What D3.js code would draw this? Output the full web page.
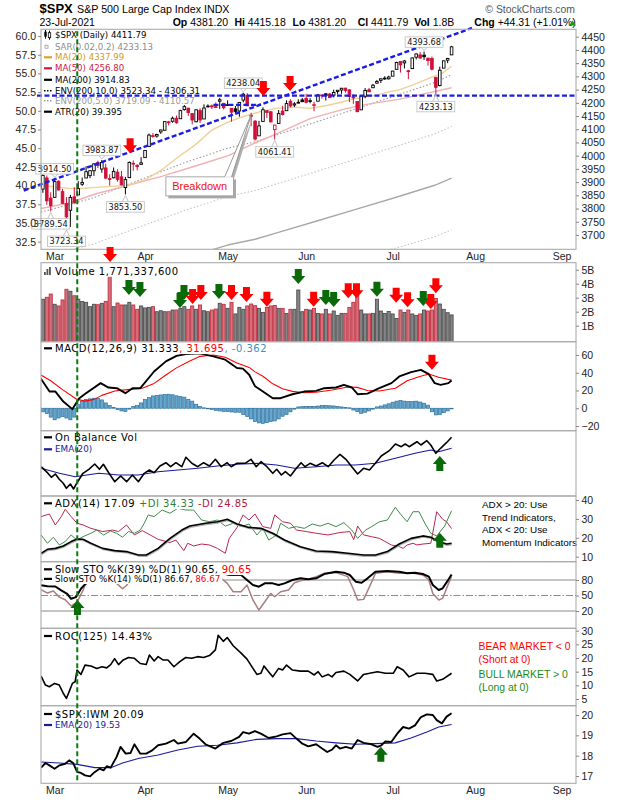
<!DOCTYPE html>
<html><head><meta charset="utf-8">
<script src="https://cdn.jsdelivr.net/npm/d3@7/dist/d3.min.js"></script>
<style>
html,body{margin:0;padding:0;background:#fff;}
svg{display:block;}
text{white-space:pre;}
</style></head><body>
<svg id="chart" width="620" height="800"></svg>
<script>
// ================= DATA =================
// trading calendar (categories)
const holidays = ["2021-04-02","2021-05-31","2021-07-05","2021-09-06"];
const calStart = "2021-02-24", calEnd = "2021-09-08";
const monthLabels = ["Mar","Apr","May","Jun","Jul","Aug","Sep"];
// day index used by indicator arrays: 0 = 2021-02-25 (array position 1)
const DAY0 = 1;
const prevClose = 3881.37;

// daily OHLC, 2021-02-24 .. 2021-07-23
const open = [3873.71,3915.80,3839.66,
3842.51,3903.64,3863.99,3818.53,3793.58,3844.39,3851.69,3891.99,3915.54,3924.52,3942.96,3973.59,3949.57,3953.50,3913.14,3916.48,3937.60,3919.93,3879.34,3917.12,3969.31,3963.34,3967.25,
3992.78,4034.44,4075.57,4074.29,4089.95,4096.11,4124.71,4130.10,4141.58,4139.76,4174.14,4179.80,4159.18,4128.42,4170.46,4138.78,4185.03,4188.25,4185.14,4206.14,4198.10,
4191.98,4179.04,4177.06,4169.14,4210.34,4228.29,4150.34,4130.55,4074.99,4129.58,4169.92,4165.94,4098.45,4121.97,4168.61,4170.16,4205.94,4191.59,4201.94,4210.77,
4216.52,4206.82,4191.43,4206.05,4229.34,4233.81,4232.99,4228.56,4242.90,4248.31,4255.28,4248.87,4220.37,4204.78,4173.40,4224.61,4249.27,4256.97,4274.45,4284.90,4293.21,4290.65,
4300.73,4326.60,4356.46,4351.01,4321.07,4329.38,4372.41,4381.07,4380.11,4369.02,4367.43,4296.40,4265.11,4331.13,4361.27,4381.20];
const high = [3928.65,3925.02,3861.08,
3914.50,3906.41,3874.47,3843.67,3851.69,3881.06,3903.76,3917.35,3960.27,3944.99,3970.08,3981.04,3983.87,3969.62,3930.12,3955.31,3949.13,3942.08,3919.54,3978.19,3981.83,3968.01,3994.41,
4020.63,4083.42,4086.23,4083.13,4098.19,4129.48,4131.76,4148.00,4151.69,4173.49,4191.31,4180.81,4159.18,4175.02,4179.57,4194.17,4194.19,4193.35,4201.53,4218.78,4198.10,
4209.39,4179.04,4187.72,4202.70,4238.04,4236.39,4162.04,4134.73,4131.58,4183.13,4171.92,4169.15,4116.93,4172.80,4188.72,4209.52,4213.42,4202.61,4213.38,4218.36,
4234.12,4217.37,4204.39,4233.45,4232.34,4236.74,4237.09,4249.74,4248.38,4255.59,4257.16,4251.89,4232.29,4204.78,4226.24,4255.84,4256.60,4271.28,4286.12,4292.14,4300.52,4302.43,
4320.66,4355.43,4356.46,4361.88,4324.81,4371.60,4386.68,4392.37,4393.68,4369.02,4375.09,4296.40,4336.84,4359.70,4369.87,4415.18];
const low = [3859.60,3814.04,3789.54,
3842.51,3868.57,3818.86,3723.34,3730.19,3819.25,3851.69,3885.73,3915.54,3915.21,3923.54,3953.44,3935.74,3910.86,3886.75,3914.16,3901.57,3889.07,3853.50,3917.12,3943.25,3944.35,3966.98,
3992.78,4034.44,4068.14,4068.31,4082.54,4095.51,4114.82,4124.43,4120.87,4139.76,4170.75,4150.47,4118.38,4126.35,4123.69,4138.78,4182.36,4176.22,4181.78,4176.81,4174.85,
4188.03,4128.59,4160.94,4147.33,4201.64,4188.13,4111.53,4056.88,4074.99,4129.58,4142.69,4125.99,4061.41,4121.97,4151.72,4170.16,4182.52,4184.11,4197.78,4203.57,
4197.59,4198.27,4167.93,4206.05,4215.66,4208.41,4218.74,4220.34,4232.25,4234.07,4238.35,4202.45,4196.05,4164.40,4173.40,4217.27,4241.43,4256.97,4271.16,4274.67,4287.04,4287.96,
4300.73,4326.60,4314.37,4329.79,4289.67,4329.38,4364.03,4366.92,4362.36,4340.70,4322.53,4233.13,4262.05,4331.13,4350.06,4381.20];
const close = [3925.43,3829.34,3811.15,
3901.82,3870.29,3819.72,3768.47,3841.94,3821.35,3875.44,3898.81,3939.34,3943.34,3968.94,3962.71,3974.12,3915.46,3913.10,3940.59,3910.52,3889.14,3909.52,3974.54,3971.09,3958.55,3972.89,
4019.87,4077.91,4073.94,4079.95,4097.17,4128.80,4127.99,4141.59,4124.66,4170.42,4185.47,4163.26,4134.94,4173.42,4134.98,4180.17,4187.62,4186.72,4183.18,4211.47,4181.17,
4192.66,4164.66,4167.59,4201.62,4232.60,4188.43,4152.10,4063.04,4112.50,4173.85,4163.29,4127.83,4115.68,4159.12,4155.86,4197.05,4188.13,4195.99,4200.88,4204.11,
4202.04,4208.12,4192.85,4229.89,4226.52,4227.26,4219.55,4239.18,4247.44,4255.15,4246.59,4223.70,4221.86,4166.45,4224.79,4246.44,4241.84,4266.49,4280.70,4290.61,4291.80,4297.50,
4319.94,4352.34,4343.54,4358.13,4320.82,4369.55,4384.63,4369.21,4374.30,4360.03,4327.16,4258.49,4323.06,4358.69,4367.48,4411.79];
// volume, billions
const volumeB = [2.89,3.03,3.26,2.53,2.41,2.84,3.6,3.46,3.14,2.89,
2.73,2.67,2.36,2.53,2.5,2.6,2.74,4.55,2.36,2.62,
2.48,2.48,2.67,2.48,2.17,2.41,2.27,2.31,2.36,2.0,
2.07,2.0,2.0,2.12,2.12,2.24,2.36,2.17,2.41,2.17,
2.48,2.07,2.0,2.12,2.19,2.6,2.53,2.24,2.67,1.84,
2.31,2.17,2.41,2.55,2.43,2.24,1.95,2.31,2.41,2.45,
2.24,2.24,1.88,2.17,2.17,3.55,2.0,2.17,2.12,2.24,
1.88,1.84,2.17,1.84,2.05,1.74,1.88,1.88,2.31,2.67,
3.19,2.12,1.84,1.84,1.88,2.89,2.05,1.88,2.02,1.84,
1.52,2.12,1.95,2.12,1.84,1.74,1.84,2.12,2.05,2.12,
2.95,2.55,2.17,1.93,1.77];
// MACD histogram per day
const macdHist = [-4,-6,-10,-13,-11,-9.5,-11,-13,-10,4,
8,10,10.6,11.3,11,9.4,6,3,1,-1.5,
-3,-3.5,-1,2,3,6,10,12,13.9,14.5,
15,15.5,15.8,15.2,14,13.2,12.5,10,8,4.5,
2,0.5,-0.5,-1.5,-2.5,-3,-3.5,-3.8,-4.2,-4.5,
-4.5,-7,-9.4,-12,-15,-16.5,-17,-16.2,-15,-14.3,
-12,-9,-7,-4,-1,1.5,1.8,1.9,1.9,2,
2.5,3,3,2.8,2.6,2,1.5,1,0.5,-2,
-3.8,-5.7,-4.5,-3,-1,1.5,2.5,3.8,5,6.8,
8,8.7,8,7.5,7.5,8,7,5.7,3.5,-4,
-7.5,-7,-5,-3,-0.362];

// overlay lines: [day index, value]
const ma20 = [[-1.5,3888],[2,3882],[5.4,3877],[9,3876],[12.3,3880],[16,3884],[19.9,3886],[25,3908],[29.2,3946],[33.5,3996],[37.7,4040],[42,4097],[46.2,4128],[50.4,4150],[54,4165],[58.6,4180],[63.7,4183],[67,4179],[71.3,4190],[75.4,4204],[77.9,4215],[80.5,4220],[84,4229],[87.3,4242],[89.9,4250],[93.2,4268],[97.5,4294],[100.8,4313],[103,4337.99]];
const ma50 = [[-1.5,3800],[6,3822],[12.3,3855],[20,3885],[29.2,3922],[38,3962],[46.2,4000],[53,4048],[59,4086],[67,4140],[75.4,4175],[80.5,4192],[89.9,4214],[96,4234],[103,4256.8]];
const ma200 = [[-1.5,3442],[12,3492],[25,3560],[35,3612],[46,3662],[53,3684],[58.5,3708],[68.5,3752],[78.6,3797],[88.7,3842],[98.7,3888],[103,3914.83]];
const envWide = 0.10, envNarrow = 0.05;   // ENV(200,10.0), ENV(200,5.0)

const macdLine = [[-1.5,33.2],[0.7,18.8],[2.2,18.8],[4.2,7.5],[6.5,-1],[8.2,11],[9.7,16],[13.7,28.3],[15.7,23.3],[17.8,22.6],[20,17],[21.8,22.6],[23.8,22.6],[27.3,41.4],[30.3,52.8],[33,59],[35.4,61.1],[38.9,61.9],[42.4,58.5],[45.4,54.7],[48.4,45.3],[49.9,44.6],[51.5,37.8],[53,24.7],[55,18.8],[57.5,11.3],[59.5,11.3],[62.5,15.8],[65.5,18.8],[68.5,19.6],[70.6,22.6],[73.6,23.4],[75.6,26.4],[77.6,23.4],[79.1,15.8],[81.6,16.5],[84.6,22.6],[87.7,28.3],[89.7,35.8],[92.7,40.7],[95.2,43.3],[97.2,38.4],[98.7,28.3],[100.2,26.4],[102.2,28.3],[103,31.333]];
const macdSignal = [[-1.5,37.5],[1,31],[4,21],[7.5,10.5],[9.7,8],[12,10],[14,14.5],[17.3,19.5],[20.5,21],[24.3,22.5],[27.3,28],[30.3,37.5],[33,45.5],[36,52.5],[39,58.5],[42.4,60],[45.4,57.5],[48.4,51],[51.5,46],[53,41],[55,36],[57.5,27.5],[60,22],[62.5,19],[65.5,17.5],[68.5,18],[72.6,20.5],[76.6,24],[79,23.5],[81.6,20],[84.6,19.5],[88.7,22.5],[91.7,31],[94.7,35.5],[97.2,38.5],[99.7,35],[103,31.695]];

const obv = [[-1.45,29.3],[0.16,23.3],[1.17,18.7],[2.17,22],[3.18,16.7],[4.18,12.7],[4.99,7.7],[6,12],[6.8,7],[7.7,13.3],[9.2,22.7],[10.7,26.7],[12.2,32],[13.4,26.7],[14.4,31.7],[15.75,23.3],[17.3,14.3],[18.8,20],[20.3,14.3],[21.8,21],[23.3,14.3],[24.8,22.7],[26.1,26],[27.3,23.3],[28.8,30],[30.3,33.3],[31.5,29.3],[32.85,33.3],[34.35,29.3],[35.4,38.7],[36.9,32.7],[38.4,29.3],[39.9,33.3],[41.4,30],[42.9,36.7],[44.4,29.3],[45.9,33.3],[46.9,29.3],[48.4,32.7],[50.45,32.7],[51.95,36.7],[53.3,29.3],[54.5,34.3],[56,29.3],[57.5,22.7],[58.5,26.7],[59.7,21],[60.7,24.3],[62,20],[63.3,26.7],[64.7,33.3],[65.7,29.3],[67,32.7],[68.55,30],[70.1,33.3],[71.6,29.3],[73.1,36],[74.6,41.7],[76.1,36.7],[77.6,29.3],[79.1,22],[80.6,27.7],[82.1,26],[83.6,32.7],[85.1,40],[87.15,45.3],[88.7,52],[90.2,49.3],[91.2,52],[92.2,49.3],[94.2,54.3],[95.2,51],[96.7,55.3],[97.7,51],[99,42.7],[100.2,47.7],[101.7,53.3],[103,58.7]];
const obvEma = [[-1.45,27.7],[3.2,22.7],[7.2,19.3],[13.2,22.7],[18.3,21],[23.3,21],[28.3,24.3],[33.4,26],[38.4,27.7],[43.4,30],[48.4,31.7],[53.5,32.7],[58.5,31],[63,27.7],[68.6,29.3],[73.6,31],[78.6,31],[83.6,32.7],[88.7,37.7],[93.7,42.7],[97.7,46],[99.7,44.3],[103,47.7]];

const adx = [[-1.45,11.8],[0.16,13.9],[2.17,14.4],[4.18,15.7],[6.19,18],[7.7,19.4],[9.21,19.2],[11.22,17.1],[14.24,14.4],[17.26,13.2],[20.27,12.7],[23.29,10.9],[25.3,10.9],[28.32,14.4],[31.34,19.7],[34.35,24.1],[36.37,26.2],[40.39,27.7],[43.41,28.5],[45.92,29.8],[48.43,27.3],[51.45,25.5],[54.47,25],[57.49,22.4],[60.5,18.8],[64.53,15.3],[68.55,13],[72.57,12.7],[76.59,11.8],[80.62,10.9],[83.63,10.9],[86.65,12.7],[89.67,16.7],[92.68,19.7],[95.7,21],[97.71,20.3],[99.73,18],[101.74,16.7],[103,17.09]];
const plusDI = [[-1.45,21.5],[0.16,17.1],[1.67,20.3],[3.18,16.2],[4.69,18],[6.19,21.5],[7.7,18.8],[9.21,20.6],[11.22,22.4],[12.73,24.1],[14.44,21.5],[16.25,23.6],[17.76,22.4],[19.27,20.3],[20.78,23.3],[22.29,22.4],[23.79,24.1],[24.8,27.7],[25.81,32.1],[27.32,31.2],[29.33,34.7],[31.34,33],[33.35,35.6],[35.36,34.7],[37.37,34.7],[39.38,29.4],[41.39,28.5],[43.41,29.4],[45.42,26.2],[47.43,27.7],[49.44,25.9],[51.45,27.3],[53.46,21.5],[54.97,25],[56.48,18.8],[58.49,21.5],[59.5,27.7],[61.51,25],[63.52,25.9],[65.53,25],[67.54,27.3],[69.55,26.2],[71.57,27.7],[73.58,25.9],[75.59,28],[77.6,24.1],[79.1,19.7],[81.12,24.1],[82.63,25.9],[84.64,28.5],[86.65,29.4],[88.66,36.1],[90.17,32.1],[91.68,28.5],[93.19,33.8],[94.7,33.8],[96.2,27.7],[97.71,22.4],[99.22,21],[101.23,26.2],[103,34.33]];
const minusDI = [[-1.45,31.2],[0.66,32.6],[2.17,26.8],[3.68,31.2],[4.69,35.1],[6.19,31.2],[7.7,27.7],[9.21,26.8],[11.22,25],[14.24,23.3],[16.75,24.1],[18.26,23.3],[20.27,26.8],[22.29,21.5],[24.3,23.8],[26.31,21.5],[28.32,19.2],[31.34,17.5],[32.85,18.8],[34.86,13.2],[35.86,17.1],[37.37,15.7],[39.38,16.7],[41.39,16.2],[43.41,14.4],[45.42,11.8],[46.42,19.7],[48.43,25.5],[49.94,32.1],[51.45,29.4],[52.96,32.6],[54.97,25.9],[56.98,25],[57.99,32.1],[60,28.5],[62.01,27.7],[63.52,24.1],[66.04,23.3],[68.55,22.4],[71.57,21.5],[74.58,22.8],[77.1,23.3],[78.1,19],[79.1,26.2],[80.62,21.5],[82.63,20.6],[84.64,19.7],[87.66,16.2],[89.67,15.3],[90.67,14.4],[91.68,16.2],[93.19,17.1],[94.19,16.2],[95.7,16.7],[97.71,17.1],[99.22,33.8],[100.73,29.8],[101.74,28.5],[103,24.85]];

const stoSlow = [[-1.45,70],[0.16,68.1],[2.17,67.5],[3.68,59.8],[5.19,53.3],[6.19,43.6],[7.4,46.9],[8.7,63],[9.72,71.4],[11.22,82],[14.24,90],[18.26,89],[22.29,85],[26.31,92.9],[30.33,96],[35.36,96],[40.39,93],[44.41,94],[46.42,89.7],[49.44,89.7],[50.95,80],[52.46,70.3],[53.97,67.1],[55.47,73.5],[57.49,73.5],[58.99,70.3],[60.5,73.5],[62.51,80],[64.53,83.2],[66.54,81.3],[68.55,83.2],[70.56,91.6],[73.58,96.1],[75.59,94.2],[77.1,89.7],[78.6,76.8],[80.11,74.8],[81.62,83.2],[83.63,96.1],[86.65,97.4],[89.67,96.1],[91.68,92.9],[93.69,94.2],[95.7,91.6],[97.21,86.5],[98.22,70.3],[99.73,60.6],[100.73,63.9],[102.24,81.3],[103,90.65]];
const stoFast = [[-1.45,61.2],[0.16,54.7],[1.67,58.6],[3.18,46.9],[4.69,41.8],[6.19,29.5],[7.7,37.2],[9.21,59.8],[10.2,80],[12.2,89.7],[15.25,86.5],[17.76,73.5],[19.27,63],[20.27,69.4],[21.78,86.5],[24.3,91.6],[28.3,96],[32.3,94],[36.4,91.6],[40.4,86.5],[43.4,89.7],[45.92,73.5],[47.43,57.3],[49.44,57.3],[50.95,70.3],[52.46,41.3],[53.97,21.9],[55.47,38],[56.98,54],[57.99,47.6],[59.5,57.3],[61.51,60.6],[63.02,74.8],[64.53,78.7],[66.54,81.3],[68.55,86.5],[70.56,92.9],[73.58,94.2],[76.59,86.5],[78.1,60.6],[79.1,41.3],[80.62,42.5],[82.13,67.1],[83.63,92.9],[86.65,96.1],[89.67,92.9],[92.68,94.2],[95.7,89.7],[97.21,80],[98.22,54],[99.73,41.3],[100.73,44.5],[102.24,73.5],[103,86.67]];

const roc = [[-1.45,13.4],[-0.34,10.1],[0.66,9.5],[1.97,10.7],[3.18,10.1],[4.18,7.1],[4.99,5.2],[5.69,7.7],[6.5,10.7],[7.2,11.3],[7.7,15.6],[8.7,14],[9.72,17.4],[11.22,17.1],[12.73,16.2],[14.04,16.8],[15.25,16.4],[16.25,17.6],[17.26,19.8],[18.26,17.6],[19.47,19.3],[20.78,20.2],[22.29,19.9],[23.79,18],[25.3,17.6],[26.11,21.1],[27.32,18.9],[28.32,20.5],[29.53,19.3],[30.83,19.3],[32.34,16.8],[33.85,18.7],[35.36,20.2],[36.87,19.9],[38.38,20.5],[39.89,20.2],[41.39,20.9],[42.9,23],[43.61,28.3],[44.91,26.1],[45.92,27.5],[47.43,24.5],[49.44,21.8],[50.95,19.6],[52.46,16.2],[53.46,14],[54.47,14.4],[55.27,17.1],[56.48,14.9],[57.49,13.1],[58.99,16.2],[60,15.6],[61,17.4],[62.51,15.6],[64.53,15.2],[66.54,15.2],[68.05,13.8],[69.05,15],[70.06,13.1],[71.57,14],[72.57,13.1],[73.58,14.7],[75.59,15.2],[77.1,14],[79.1,11.6],[80.62,14],[82.13,14.4],[84.14,15],[86.15,14.4],[88.16,14.4],[89.16,16.8],[90.67,15.6],[92.18,13.1],[94.19,14.4],[96.2,14.4],[98.22,14],[99.22,11.6],[100.73,12.2],[103,14.43]];

const spxIwm = [[-1.45,17.41],[-0.34,17.64],[0.66,17.52],[1.97,17.36],[3.18,17.52],[4.69,17.6],[5.69,17.77],[6.7,17.64],[7.7,17.2],[8.7,17.15],[9.72,17.03],[11.02,16.98],[12.23,17.2],[13.44,17.36],[14.44,17.28],[15.25,17.48],[16.25,17.41],[17.76,17.94],[18.77,18.43],[20.07,18.1],[21.28,18.13],[22.29,18.56],[23.79,18.1],[25.3,18.1],[26.81,18.26],[28.32,18.51],[30.33,18.59],[32.34,18.77],[33.35,18.59],[35.36,18.67],[37.37,19.08],[38.88,18.84],[40.39,18.56],[42.9,18.35],[44.91,18.63],[46.93,18.72],[48.94,18.92],[49.94,19.16],[51.45,19.08],[52.96,19.21],[54.47,19.08],[56.48,18.87],[58.49,18.95],[60,19.05],[62.01,19.11],[63.52,18.84],[65.03,18.59],[66.54,18.46],[68.55,18.56],[70.06,18.35],[71.36,18.18],[72.57,18.3],[73.58,18.51],[74.58,18.35],[76.09,18.43],[77.6,18.35],[79.1,18.77],[80.62,18.63],[82.63,18.56],[84.14,18.43],[85.14,18.51],[86.15,18.7],[87.66,18.67],[89.16,19.08],[90.67,19.41],[92.18,19.33],[93.69,19.49],[95.2,19.9],[96.71,20.03],[98.22,20],[99.22,19.75],[100.53,19.59],[101.74,19.92],[103,20.09]];
const spxIwmEma = [[-1.45,17.69],[3.18,17.64],[7.7,17.57],[12.23,17.41],[16.25,17.41],[19.27,17.64],[23.29,17.86],[28.32,18.03],[33.35,18.28],[38.38,18.46],[43.41,18.51],[48.43,18.63],[53.46,18.8],[58.49,18.84],[63.52,18.84],[68.55,18.72],[73.58,18.63],[78.6,18.56],[83.63,18.59],[88.66,18.63],[92.68,18.87],[96.71,19.16],[99.73,19.41],[103,19.53]];

// annotations (day index, value)
const priceNotes = [["2021-02-26","low"],["2021-03-01","high"],["2021-03-04","low"],["2021-03-17","high"],["2021-03-25","low"],["2021-05-07","high"],["2021-05-19","low"],["2021-07-14","high"],["2021-07-19","low"]];
const mainSignals = [[21.2,4009],[55.1,4226],[61.9,4245]];
const volSignals = [[16.1,5.55,"r"],[20.9,3.19,"g"],[23.7,3.05,"g"],[33.9,2.26,"g"],[34.9,2.84,"g"],[37.1,2.55,"r"],[39.2,2.84,"r"],[43.8,2.9,"g"],[47,2.84,"r"],[50.8,2.7,"r"],[56,2.36,"r"],[64,3.98,"g"],[67.9,2.36,"r"],[71,2.48,"g"],[73,2.34,"g"],[76.7,2.96,"r"],[78.8,2.96,"r"],[84,3.07,"g"],[88.9,2.64,"r"],[91.8,2.31,"r"],[95.8,2.41,"g"],[97.7,2.19,"r"],[99,3.31,"r"]];
const trendDiagonal = [[-5.88,3868.3],[108.2,4482.9]];
const trendFlat = [[-2.5,4227],[134.6,4227]];
const trendShort = [[42.4,4192],[54.5,4192]];
const callout = {text:"Breakdown", tip:[52,4154], box:[[30.3,3920],[47.5,3848]]};
const signalLineDay = 7.75;

// ================= RENDER =================
const svg = d3.select("#chart");
const UI = "'Liberation Sans', Arial, Helvetica, sans-serif";
const LEG = "'DejaVu Sans', Verdana, sans-serif";
const RED = "#d0103a", GRN = "#0a6a0a", BRED = "#ff0000";
const X0 = 41, X1 = 576;

// calendar
function tradingDays(a, b, hol) {
  const out = []; const d = new Date(a + "T12:00:00Z"), e = new Date(b + "T12:00:00Z");
  while (d <= e) { const w = d.getUTCDay(), s = d.toISOString().slice(0,10);
    if (w !== 0 && w !== 6 && hol.indexOf(s) < 0) out.push(s); d.setUTCDate(d.getUTCDate() + 1); }
  return out;
}
const cal = tradingDays(calStart, calEnd, holidays);
const monthDays = [];
cal.forEach((s, i) => { if (i > 0 && s.slice(5,7) !== cal[i-1].slice(5,7)) monthDays.push(i - DAY0); });

const xs = d3.scaleLinear().domain([-1.476, 134.66]).range([X0, X1]);

const P = {
  main:{t:29.3,b:249.3}, vol:{t:262.7,b:341.7}, macd:{t:341.7,b:430.7}, obv:{t:430.7,b:496},
  adx:{t:496,b:561.7}, sto:{t:561.7,b:628.3}, roc:{t:628.3,b:705.7}, ratio:{t:705.7,b:783.3}
};
const yPrice = d3.scaleLinear().domain([3700,4450]).range([235,36.7]);
const yLeft = d3.scaleLinear().domain([32.5,60]).range([241.7,36]);
const yVol = d3.scaleLinear().domain([0,5]).range([339.7,269.7]);
const yMacd = d3.scaleLinear().domain([-20,60]).range([426,355]);
const yObv = d3.scaleLinear().domain([0,65]).range([496,431]);
const yAdx = d3.scaleLinear().domain([10,40]).range([556.7,500]);
const ySto = d3.scaleLinear().domain([20,80]).range([611,580]);
const yRoc = d3.scaleLinear().domain([5,30]).range([699,630.7]);
const yRat = d3.scaleLinear().domain([17,20]).range([776,715]);

svg.append("rect").attr("width",620).attr("height",800).attr("fill","#fff");
const defs = svg.append("defs");
Object.keys(P).forEach(k => {
  defs.append("clipPath").attr("id","clip-"+k).append("rect")
    .attr("x",X0).attr("y",P[k].t).attr("width",X1-X0).attr("height",P[k].b-P[k].t);
});
const layer = k => svg.append("g").attr("clip-path","url(#clip-"+k+")");
const lineOf = ys => d3.line().x(d => xs(d[0])).y(d => ys(d[1]));
function drawLine(g, data, ys, color, w, dash) {
  const p = g.append("path").attr("d", lineOf(ys)(data)).attr("fill","none")
    .attr("stroke",color).attr("stroke-width",w).attr("stroke-linejoin","round");
  if (dash) p.attr("stroke-dasharray",dash);
  return p;
}
function arrow(g, x, y, dir, color) {
  const s = dir === "down" ? 1 : -1; // tip at (x,y)
  const pts = [[x-3.5,y-15*s],[x+3.5,y-15*s],[x+3.5,y-8*s],[x+7,y-8*s],[x,y],[x-7,y-8*s],[x-3.5,y-8*s]];
  g.append("path").attr("d","M"+pts.map(p=>p.join(",")).join("L")+"Z").attr("fill",color);
}

// ---------- MAIN PANEL ----------
const gm = layer("main");
const env = (f) => ma200.map(d => [d[0], d[1]*f]);
drawLine(gm, env(1-envWide), yPrice, "#9a9a9a", 1.1, "1.5,2");
drawLine(gm, env(1+envWide), yPrice, "#9a9a9a", 1.1, "1.5,2");
drawLine(gm, env(1-envNarrow), yPrice, "#c4c4c4", 1.1, "1.5,2");
drawLine(gm, env(1+envNarrow), yPrice, "#c4c4c4", 1.1, "1.5,2");
drawLine(gm, ma200, yPrice, "#a9a9a9", 1.4);
drawLine(gm, ma50, yPrice, "#f2b0b0", 1.4);
drawLine(gm, ma20, yPrice, "#f0cf98", 1.4);

close.forEach((c, i) => {
  const k = i - DAY0, x = xs(k);
  const pc = i === 0 ? prevClose : close[i-1];
  const col = c >= pc ? "#000" : RED;
  const hollow = c >= open[i];
  gm.append("line").attr("x1",x).attr("x2",x).attr("y1",yPrice(high[i])).attr("y2",yPrice(low[i]))
    .attr("stroke",col).attr("stroke-width",1);
  const y1 = yPrice(Math.max(open[i],c)), y2 = yPrice(Math.min(open[i],c));
  gm.append("rect").attr("x",x-1.3).attr("y",y1).attr("width",2.6).attr("height",Math.max(0.8,y2-y1))
    .attr("fill",hollow ? "#fff" : col).attr("stroke",col).attr("stroke-width",0.9);
});

// trend lines (not clipped, they run past the frame)
const gt = svg.append("g");
[trendDiagonal, trendFlat, trendShort].forEach(t =>
  drawLine(gt, t, yPrice, "#1c1ce6", 2.4, "5,2.5"));

// price notes
const gn = svg.append("g");
priceNotes.forEach(([date, kind]) => {
  const i = cal.indexOf(date), k = i - DAY0, x = xs(k);
  const v = kind === "high" ? high[i] : low[i];
  const py = yPrice(v);
  const cy = kind === "high" ? py - 9.5 : py + 12.5;
  const t = gn.append("text").attr("x",x).attr("y",cy+3).attr("text-anchor","middle")
    .attr("font-family",LEG).attr("font-size",8.2).attr("fill","#111").text(v.toFixed(2));
  const w = t.node().getComputedTextLength() + 4, h = 10.5;
  const by = cy - h/2;
  const edge = kind === "high" ? by + h : by;
  gn.insert("path","text").attr("d",`M${x-3},${edge}L${x},${py + (kind==="high"?-1:1)}L${x+3},${edge}`)
    .attr("fill","#fff").attr("stroke","#bdbdbd").attr("stroke-width",0.9);
  gn.insert("rect","text").attr("x",x-w/2).attr("y",by).attr("width",w).attr("height",h)
    .attr("fill","#fff").attr("stroke","#c4c4c4").attr("stroke-width",0.9);
});

// Breakdown callout
const gc = svg.append("g");
{
  const bx0 = xs(callout.box[0][0]), by0 = yPrice(callout.box[0][1]);
  const bx1 = xs(callout.box[1][0]), by1 = yPrice(callout.box[1][1]);
  const tx = xs(callout.tip[0]), ty = yPrice(callout.tip[1]);
  gc.append("rect").attr("x",bx0+2.5).attr("y",by0+2.5).attr("width",bx1-bx0).attr("height",by1-by0).attr("fill","#a8a8a8");
  gc.append("path").attr("d",`M${bx1-9+2.5},${by0+2}L${tx+2},${ty+2}L${bx1-2+2.5},${by0+2}Z`).attr("fill","#b0b0b0");
  gc.append("path").attr("d",`M${bx1-9},${by0+0.5}L${tx},${ty}L${bx1-2},${by0+0.5}Z`)
    .attr("fill","#fff").attr("stroke","#8c8c8c").attr("stroke-width",0.9);
  gc.append("rect").attr("x",bx0).attr("y",by0).attr("width",bx1-bx0).attr("height",by1-by0)
    .attr("fill","#fff").attr("stroke","#a0a0a0").attr("stroke-width",0.9);
  gc.append("line").attr("x1",bx1-8.5).attr("x2",bx1-2.5).attr("y1",by0).attr("y2",by0).attr("stroke","#fff").attr("stroke-width",1.2);
  gc.append("text").attr("x",(bx0+bx1)/2).attr("y",(by0+by1)/2+4).attr("text-anchor","middle")
    .attr("font-family",UI).attr("font-size",11).attr("fill","#ee1111").text(callout.text);
}
const ga = svg.append("g");
mainSignals.forEach(d => arrow(ga, xs(d[0]), yPrice(d[1]), "down", BRED));

// ---------- VOLUME ----------
const gv = layer("vol");
volumeB.forEach((v, i) => {
  const k = i - DAY0, x = xs(k);
  const pc = i === 0 ? prevClose : close[i-1];
  const up = close[i] >= pc;
  gv.append("rect").attr("x",x-1.55).attr("y",yVol(v)).attr("width",3.1).attr("height",P.vol.b-yVol(v))
    .attr("fill",up ? "#858585" : "#d4707c").attr("stroke",up ? "#4a4a4a" : "#c22a3c").attr("stroke-width",0.85);
});

// ---------- MACD ----------
const gmc = layer("macd");
macdHist.forEach((v, i) => {
  const k = i - DAY0, x = xs(k), y0 = yMacd(0), y = yMacd(v);
  gmc.append("rect").attr("x",x-1.55).attr("y",Math.min(y0,y)).attr("width",3.1).attr("height",Math.max(0.6,Math.abs(y-y0)))
    .attr("fill","#62a8d2").attr("stroke","#2f6f99").attr("stroke-width",0.7);
});
drawLine(gmc, macdSignal, yMacd, "#ff0000", 1.1);
drawLine(gmc, macdLine, yMacd, "#000", 1.9);

// ---------- OBV ----------
const go = layer("obv");
drawLine(go, obvEma, yObv, "#1a1a9c", 1.1);
drawLine(go, obv, yObv, "#000", 1.6);

// ---------- ADX ----------
const gx = layer("adx");
drawLine(gx, minusDI, yAdx, "#b8284e", 1);
drawLine(gx, plusDI, yAdx, "#3d8c4a", 1);
drawLine(gx, adx, yAdx, "#b0b0b0", 1.8).attr("transform","translate(0.5,1)");
drawLine(gx, adx, yAdx, "#000", 1.6);

// ---------- STO ----------
const gs = layer("sto");
[[80,null],[50,"7,2,1.5,2"],[20,null]].forEach(([v,dash]) => {
  const l = gs.append("line").attr("x1",X0).attr("x2",X1).attr("y1",ySto(v)).attr("y2",ySto(v))
    .attr("stroke","#8a8a8a").attr("stroke-width",1);
  if (dash) l.attr("stroke-dasharray",dash);
});
drawLine(gs, stoFast, ySto, "#a88080", 1.5);
drawLine(gs, stoSlow, ySto, "#000", 2);

// ---------- ROC ----------
const gr = layer("roc");
drawLine(gr, roc, yRoc, "#000", 1.6);

// ---------- SPX:IWM ----------
const gq = layer("ratio");
drawLine(gq, spxIwmEma, yRat, "#1a1a9c", 1.1);
drawLine(gq, spxIwm, yRat, "#000", 1.9);

// ---------- LEGENDS ----------
function legend(cy, parts, size, ls, swatch, bg) {
  const g = svg.append("g");
  const t = g.append("text").attr("x",55).attr("y",cy + size*0.36)
    .attr("font-family",LEG).attr("font-size",size).attr("letter-spacing",ls);
  parts.forEach(p => t.append("tspan").attr("fill",p[1]).text(p[0]));
  if (bg) {
    const w = t.node().getComputedTextLength();
    g.insert("rect","text").attr("x",43).attr("y",cy - size*0.62).attr("width",w + 14).attr("height",size*1.2).attr("fill","#fff");
  }
  if (swatch) swatch(g, cy);
  return g;
}
const dash = (c, w, d) => (g, cy) => { const l = g.append("line").attr("x1",44).attr("x2",52).attr("y1",cy).attr("y2",cy)
  .attr("stroke",c).attr("stroke-width",w||2.2); if (d) l.attr("stroke-dasharray",d); };
const candleIcon = (g, cy) => {
  g.append("line").attr("x1",45.5).attr("x2",45.5).attr("y1",cy-5).attr("y2",cy+4).attr("stroke","#000");
  g.append("rect").attr("x",44.3).attr("y",cy-3).attr("width",2.4).attr("height",5).attr("fill","#000");
  g.append("line").attr("x1",49.5).attr("x2",49.5).attr("y1",cy-4).attr("y2",cy+5).attr("stroke","#000");
  g.append("rect").attr("x",48.3).attr("y",cy-2).attr("width",2.4).attr("height",5).attr("fill","#fff").attr("stroke","#000").attr("stroke-width",0.8);
};
const sarIcon = (g, cy) => g.append("rect").attr("x",45).attr("y",cy-1.5).attr("width",3).attr("height",3).attr("fill","none").attr("stroke","#999").attr("stroke-width",0.8);
const volIcon = (g, cy) => [[44,3],[46.5,6],[49,8]].forEach(([x,h]) =>
  g.append("rect").attr("x",x).attr("y",cy+4-h).attr("width",1.8).attr("height",h).attr("fill","#555"));

const ML = 8.6;
legend(34.7, [["$SPX (Daily) 4411.79","#000"]], ML, 0, candleIcon);
legend(46.7, [["SAR(0.02,0.2) 4233.13","#8c8c8c"]], ML, 0, sarIcon);
legend(57.3, [["MA(20) 4337.99","#d49a1a"]], ML, 0, dash("#e0a030"));
legend(68.3, [["MA(50) 4256.80","#cc1848"]], ML, 0, dash("#d01848"));
legend(79.8, [["MA(200) 3914.83","#000"]], ML, 0, dash("#000"));
legend(90.7, [["ENV(200,10.0) 3523.34 - 4306.31","#000"]], ML, 0, dash("#000",1.6,"1.5,1.5"));
legend(100.7, [["ENV(200,5.0) 3719.09 - 4110.57","#999"]], ML, 0, dash("#999",1.6,"1.5,1.5"));
legend(111.7, [["ATR(20) 39.395","#000"]], ML, 0, dash("#000"));

const PL = 10, PS = 0.5, SL = 8.8;
legend(271, [["Volume 1,771,337,600","#000"]], PL, PS, volIcon, true);
legend(348.3, [["MACD(12,26,9) 31.333","#000"],[", 31.695","#ff0000"],[", -0.362","#3b8fc4"]], PL, PS, dash("#000"), true);
legend(437.3, [["On Balance Vol","#000"]], PL, PS, dash("#000"), true);
legend(449.3, [["EMA(20)","#1a1a9c"]], SL, 0, dash("#1a1a9c"), false);
legend(503.3, [["ADX(14) 17.09 ","#000"],["+DI 34.33 ","#2f7d3c"],["-DI 24.85","#b02048"]], PL, PS, dash("#000"), true);
legend(569.3, [["Slow STO %K(39) %D(1) 90.65, ","#000"],["90.65","#ff0000"]], PL, 0.25, dash("#000"), true);
legend(578.9, [["Slow STO %K(14) %D(1) 86.67, ","#000"],["86.67","#ff0000"]], SL, 0, dash("#000"), true);
legend(636, [["ROC(125) 14.43%","#000"]], PL, PS, dash("#000"), true);
legend(714, [["$SPX:IWM 20.09","#000"]], PL, PS, dash("#000"), true);
legend(725, [["EMA(20) 19.53","#1a1a9c"]], SL, 0, dash("#1a1a9c"), false);

// notes
function notes(x, ys, lines, size) {
  lines.forEach((l, i) => svg.append("text").attr("x",x).attr("y",ys[i]).attr("font-family",UI)
    .attr("font-size",size).attr("fill",l[1]).text(l[0]));
}
notes(482, [507.8,520.5,533,545.5], [["ADX > 20: Use","#000"],["Trend Indicators,","#000"],["ADX < 20: Use","#000"],["Momentum Indicators","#000"]], 9.9);
notes(478.5, [650.3,663,677.8,691], [["BEAR MARKET < 0","#ff0000"],["(Short at 0)","#ff0000"],["BULL MARKET > 0","#1a8a1a"],["(Long at 0)","#1a8a1a"]], 10.4);

// ---------- FRAMES ----------
Object.keys(P).forEach(k => svg.append("rect").attr("x",X0).attr("y",P[k].t).attr("width",X1-X0)
  .attr("height",P[k].b-P[k].t).attr("fill","none").attr("stroke","#ababab").attr("stroke-width",1.1));

// ---------- AXES ----------
function styleAxis(g) {
  g.attr("font-family",UI).attr("font-size",10.5);
  g.select(".domain").remove();
  g.selectAll("line").attr("stroke","#888");
  g.selectAll("text").attr("fill","#222");
}
function rightAxis(ys, ticks, fmt) {
  svg.append("g").attr("transform",`translate(${X1},0)`)
    .call(d3.axisRight(ys).tickValues(ticks).tickFormat(fmt).tickSize(3).tickPadding(2.5)).call(styleAxis);
}
rightAxis(yPrice, d3.range(3700,4451,50), d3.format("d"));
rightAxis(yVol, [1,2,3,4,5], d => d + "B");
rightAxis(yMacd, [-20,0,20,40,60], d3.format("d"));
rightAxis(yAdx, [10,20,30,40], d3.format("d"));
rightAxis(ySto, [20,50,80], d3.format("d"));
rightAxis(yRoc, [5,10,15,20,25,30], d3.format("d"));
rightAxis(yRat, [17,18,19,20], d3.format("d"));
svg.append("g").attr("transform",`translate(${X0},0)`)
  .call(d3.axisLeft(yLeft).tickValues(d3.range(32.5,60.01,2.5)).tickFormat(d3.format(".1f")).tickSize(3).tickPadding(2)).call(styleAxis);
[P.main.b, P.ratio.b].forEach(y => svg.append("g").attr("transform",`translate(0,${y})`)
  .call(d3.axisBottom(xs).tickValues(monthDays).tickFormat((d,i) => monthLabels[i]).tickSize(0).tickPadding(3)).call(styleAxis));

// ---------- SIGNAL ARROWS (indicator panels) ----------
const gsig = svg.append("g");
volSignals.forEach(d => arrow(gsig, xs(d[0]), yVol(d[1]), "down", d[2] === "r" ? BRED : GRN));
arrow(gsig, xs(98), yMacd(43.4), "down", BRED);
arrow(gsig, xs(100), yObv(40), "up", GRN);
arrow(gsig, xs(100), yAdx(22.7), "up", GRN);
arrow(gsig, xs(7.8), ySto(41.3), "up", GRN);
arrow(gsig, xs(85), yRat(18.44), "up", GRN);

// ---------- SIGNAL DAY LINE ----------
svg.append("line").attr("x1",xs(signalLineDay)).attr("x2",xs(signalLineDay)).attr("y1",P.main.t+2).attr("y2",P.ratio.b)
  .attr("stroke","#0a7a0a").attr("stroke-width",2).attr("stroke-dasharray","5,3");

// ---------- HEADER ----------
svg.append("text").attr("x",39.5).attr("y",13.3).attr("font-family",UI).attr("font-size",13).attr("font-weight","bold").text("$SPX");
svg.append("text").attr("x",77).attr("y",12.8).attr("font-family",UI).attr("font-size",10.7).text("S&P 500 Large Cap Index INDX");
svg.append("text").attr("x",575).attr("y",12.8).attr("text-anchor","end").attr("font-family",UI).attr("font-size",10.4).attr("fill","#555").text("\u00A9 StockCharts.com");
svg.append("text").attr("x",39.5).attr("y",26).attr("font-family",UI).attr("font-size",10.5).text("23-Jul-2021");
const quote = [["Op","4381.20",172.7],["Hi","4415.18",234.4],["Lo","4381.20",292.5],["Cl","4411.79",357.7],["Vol","1.8B",414.2],["Chg","+44.31 (+1.01%)",474.3]];
quote.forEach(([a,b,x]) => {
  const t = svg.append("text").attr("x",x).attr("y",26).attr("font-family",UI).attr("font-size",10.5);
  t.append("tspan").attr("font-weight","bold").text(a);
  t.append("tspan").text(" " + b);
});
svg.append("path").attr("d","M569,25.5L572.5,20.5L576,25.5Z").attr("fill","#1a9a1a");
</script>
</body></html>
